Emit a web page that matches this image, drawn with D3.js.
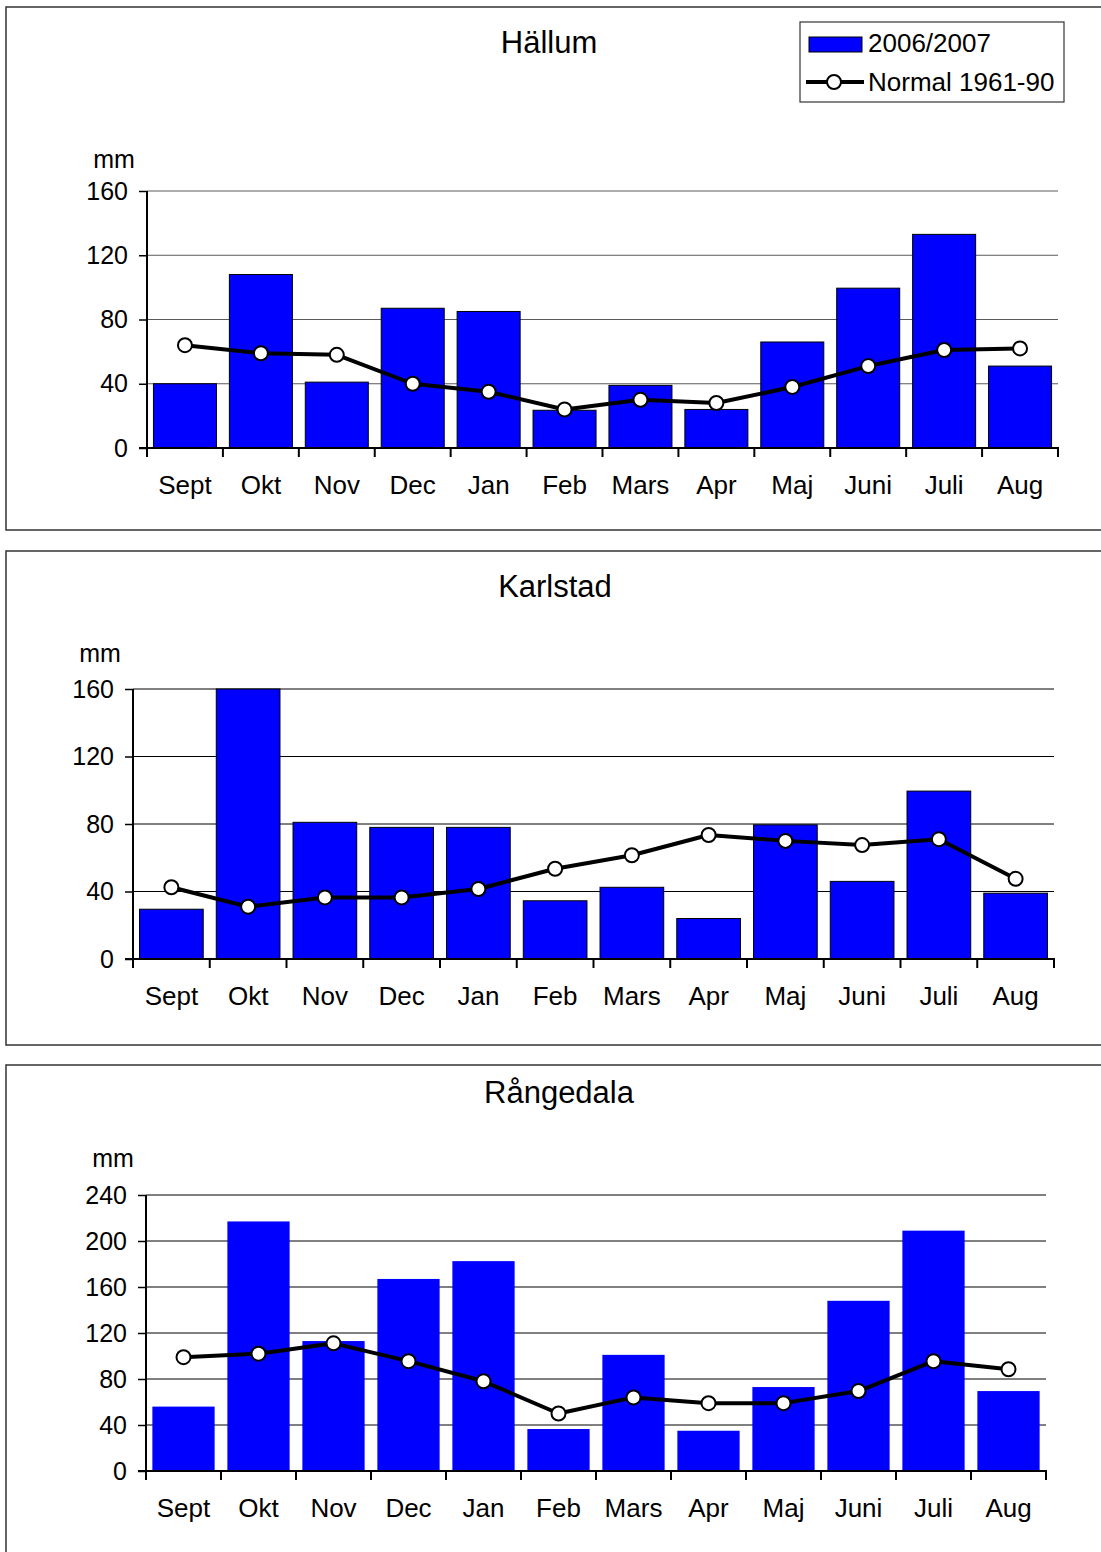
<!DOCTYPE html>
<html>
<head>
<meta charset="utf-8">
<script src="https://cdn.jsdelivr.net/npm/d3@7"></script>
<style>
  html, body { margin: 0; padding: 0; background: #fff; }
  svg { display: block; font-family: "Liberation Sans", Arial, sans-serif; }
</style>
</head>
<body>
<svg id="chart" width="1101" height="1552"></svg>
<script>
// Monthly precipitation (mm), season Sept 2006 – Aug 2007, with 1961–90 normals
const months = ["Sept", "Okt", "Nov", "Dec", "Jan", "Feb", "Mars", "Apr", "Maj", "Juni", "Juli", "Aug"];

const hallumRain   = [40, 108, 41, 87, 85, 23.5, 39, 24, 66, 99.5, 133, 51];
const hallumNormal = [64, 59, 58, 40, 35, 24, 30, 28, 38, 51, 61, 62];

const karlstadRain   = [29.5, 160, 81, 78, 78, 34.5, 42.5, 24, 79.5, 46, 99.5, 39];
const karlstadNormal = [42.5, 31, 36.5, 36.5, 41.5, 53.5, 61.5, 73.5, 70, 67.5, 71, 47.5];

const rangedalaRain   = [56, 217, 113, 167, 182.5, 36.5, 101, 35, 73, 148, 209, 69.5];
const rangedalaNormal = [99, 102, 111, 95.5, 78, 50, 64, 59, 59, 69.5, 95.5, 88.5];

const yTicks160 = [0, 40, 80, 120, 160];
const yTicks240 = [0, 40, 80, 120, 160, 200, 240];

const legendLabels = ["2006/2007", "Normal 1961-90"];

// Panel layout: frame box, plot area and label placement
const panels = [
  { title: "Hällum", rain: hallumRain, normal: hallumNormal, ticks: yTicks160,
    box: [6, 7, 1120, 523], left: 147, right: 1058, bottom: 448, top: 191,
    titleX: 549, titleY: 53, unitY: 168, gridColor: "#5a5a5a", barStroke: "#000", legend: true },
  { title: "Karlstad", rain: karlstadRain, normal: karlstadNormal, ticks: yTicks160,
    box: [6, 551, 1120, 494], left: 133, right: 1054, bottom: 959, top: 689,
    titleX: 555, titleY: 597, unitY: 662, gridColor: "#000", barStroke: "#000", legend: false },
  { title: "Rångedala", rain: rangedalaRain, normal: rangedalaNormal, ticks: yTicks240,
    box: [6, 1065, 1120, 520], left: 146, right: 1046, bottom: 1471, top: 1195,
    titleX: 559, titleY: 1103, unitY: 1167, gridColor: "#000", barStroke: "none", legend: false }
];

const svg = d3.select("#chart");
const BLUE = "#0000ff";

panels.forEach(p => {
  const g = svg.append("g");

  // frame
  g.append("rect")
    .attr("x", p.box[0]).attr("y", p.box[1])
    .attr("width", p.box[2]).attr("height", p.box[3])
    .attr("fill", "#fff").attr("stroke", "#333").attr("stroke-width", 1.5);

  // title
  g.append("text")
    .attr("x", p.titleX).attr("y", p.titleY)
    .attr("text-anchor", "middle")
    .attr("font-size", 31)
    .attr("fill", "#000")
    .text(p.title);

  const yMax = p.ticks[p.ticks.length - 1];
  const x = d3.scaleBand().domain(months).range([p.left, p.right])
    .paddingInner(0.17).paddingOuter(0.085);
  const y = d3.scaleLinear().domain([0, yMax]).range([p.bottom, p.top]);
  const edge = d3.scaleLinear().domain([0, months.length]).range([p.left, p.right]);

  // gridlines
  g.append("g").selectAll("line")
    .data(p.ticks.filter(t => t > 0))
    .join("line")
    .attr("x1", p.left).attr("x2", p.right)
    .attr("y1", d => y(d)).attr("y2", d => y(d))
    .attr("stroke", p.gridColor).attr("stroke-width", 1);

  // bars
  g.append("g").selectAll("rect")
    .data(months)
    .join("rect")
    .attr("x", d => x(d))
    .attr("width", x.bandwidth())
    .attr("y", (d, i) => y(p.rain[i]))
    .attr("height", (d, i) => y(0) - y(p.rain[i]))
    .attr("fill", BLUE)
    .attr("stroke", p.barStroke)
    .attr("stroke-width", p.barStroke === "none" ? 0 : 1);

  // y axis
  const yAxis = d3.axisLeft(y).tickValues(p.ticks).tickSize(8).tickPadding(11)
    .tickFormat(d3.format("d"));
  const ya = g.append("g").attr("transform", `translate(${p.left},0)`).call(yAxis);
  ya.select(".domain").attr("stroke", "#000").attr("stroke-width", 2)
    .attr("d", `M0,${p.bottom}V${p.top}`);
  ya.selectAll(".tick line").attr("stroke", "#000").attr("stroke-width", 1.5);
  ya.selectAll(".tick text").attr("font-size", 25).attr("fill", "#000")
    .attr("font-family", "'Liberation Sans', Arial, sans-serif");

  // unit label
  g.append("text")
    .attr("x", p.left - 33).attr("y", p.unitY)
    .attr("text-anchor", "middle")
    .attr("font-size", 25)
    .text("mm");

  // x axis: labels at band centres, ticks at category boundaries
  const xAxis = d3.axisBottom(x).tickSize(0).tickPadding(28);
  const xa = g.append("g").attr("transform", `translate(0,${p.bottom})`).call(xAxis);
  xa.select(".domain").remove();
  xa.selectAll(".tick text").attr("font-size", 26).attr("fill", "#000")
    .attr("font-family", "'Liberation Sans', Arial, sans-serif");
  g.append("g").selectAll("line")
    .data(d3.range(months.length + 1))
    .join("line")
    .attr("x1", d => edge(d)).attr("x2", d => edge(d))
    .attr("y1", p.bottom).attr("y2", p.bottom + 9)
    .attr("stroke", "#000").attr("stroke-width", 2);
  g.append("line")
    .attr("x1", p.left - 8).attr("x2", p.right + 1)
    .attr("y1", p.bottom).attr("y2", p.bottom)
    .attr("stroke", "#000").attr("stroke-width", 2);

  // normal line with markers
  const line = d3.line()
    .x((d, i) => x(months[i]) + x.bandwidth() / 2)
    .y(d => y(d));
  g.append("path")
    .datum(p.normal)
    .attr("d", line)
    .attr("fill", "none").attr("stroke", "#000").attr("stroke-width", 4)
    .attr("stroke-linejoin", "round");
  g.append("g").selectAll("circle")
    .data(p.normal)
    .join("circle")
    .attr("cx", (d, i) => x(months[i]) + x.bandwidth() / 2)
    .attr("cy", d => y(d))
    .attr("r", 7)
    .attr("fill", "#fff").attr("stroke", "#000").attr("stroke-width", 2);

  // legend
  if (p.legend) {
    const lg = g.append("g");
    lg.append("rect").attr("x", 800).attr("y", 22).attr("width", 264).attr("height", 80)
      .attr("fill", "#fff").attr("stroke", "#333").attr("stroke-width", 1.2);
    lg.append("rect").attr("x", 809).attr("y", 37).attr("width", 53).attr("height", 15)
      .attr("fill", BLUE).attr("stroke", "#000").attr("stroke-width", 1);
    lg.append("text").attr("x", 868).attr("y", 52).attr("font-size", 26).text(legendLabels[0]);
    lg.append("line").attr("x1", 806).attr("x2", 864).attr("y1", 82).attr("y2", 82)
      .attr("stroke", "#000").attr("stroke-width", 4);
    lg.append("circle").attr("cx", 834).attr("cy", 82).attr("r", 7)
      .attr("fill", "#fff").attr("stroke", "#000").attr("stroke-width", 2);
    lg.append("text").attr("x", 868).attr("y", 91).attr("font-size", 26).text(legendLabels[1]);
  }
});
</script>
</body>
</html>
